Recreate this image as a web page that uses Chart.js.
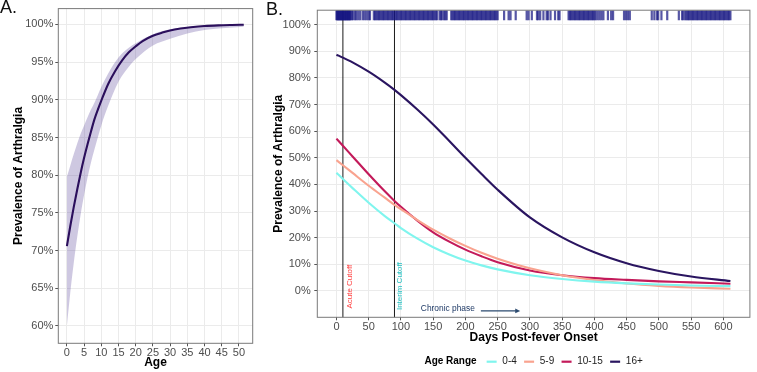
<!DOCTYPE html>
<html><head><meta charset="utf-8">
<script src="https://cdn.jsdelivr.net/npm/chart.js@4.4.1/dist/chart.umd.min.js"></script>
<style>
html,body{margin:0;padding:0;background:#fff;}
body{width:757px;height:372px;position:relative;overflow:hidden;font-family:"Liberation Sans",Arial,sans-serif;}
.pane{position:absolute;top:0;height:372px;}
.tag{position:absolute;font-size:18px;line-height:18px;color:#111;font-family:"Liberation Sans",Arial,sans-serif;}
</style></head><body>
<div class="pane" style="left:0;width:256px"><canvas id="ca"></canvas></div>
<div class="pane" style="left:256px;width:501px"><canvas id="cb"></canvas></div>
<div class="tag" style="left:0;top:-2px">A.</div>
<div class="tag" style="left:266px;top:0px">B.</div>
<script>
// ---------- Panel A data ----------
const ageTicks = [0,5,10,15,20,25,30,35,40,45,50];
const pctTicksA = [60,65,70,75,80,85,90,95,100];
const ageLineX = [0,1,2,3,4,5,6,7,8,9,10,12,14,16,18,20,22,25,28,30,33,36,40,44,48,51.4];
const ageLineY = [70.6,73.3,75.8,78.1,80.3,82.3,84.1,85.8,87.4,88.7,89.9,92.1,93.8,95.2,96.3,97.1,97.8,98.5,98.95,99.2,99.45,99.62,99.79,99.88,99.93,99.96];
const ageBandX = [0,1,2,3,4,5,6,7,8,10,12,15,18,20,25,30,35,40,45,51.4];
const ageBandUpper = [79.8,81.3,82.8,84.2,85.5,86.6,87.7,88.7,89.6,91.7,93.5,95.6,96.9,97.5,98.7,99.35,99.65,99.82,99.9,99.96];
const ageBandLower = [60.0,64.5,68.4,71.8,74.8,77.4,79.7,81.7,83.4,86.6,89.2,92.4,94.4,95.4,97.2,98.1,98.8,99.25,99.5,99.7];

// ---------- Panel B data ----------
const dayTicks = [0,50,100,150,200,250,300,350,400,450,500,550,600];
const pctTicksB = [0,10,20,30,40,50,60,70,80,90,100];
const ageGroups = ['0-4','5-9','10-15','16+'];
const days = [0,10,25,50,75,90,100,125,150,175,200,225,250,300,350,400,450,500,550,611];
const prev04   = [44.4,42.0,38.6,33.1,28.1,25.4,23.6,19.7,16.4,13.7,11.4,9.6,8.1,5.9,4.5,3.5,2.85,2.4,2.05,1.8];
const prev59   = [49.1,47.2,44.3,39.5,35.0,32.3,30.7,26.7,23.0,19.8,16.9,14.3,12.1,8.5,5.9,4.1,2.8,1.9,1.3,0.82];
const prev1015 = [57.2,54.5,50.5,43.8,37.4,33.8,31.6,26.5,22.0,18.5,15.5,13.0,10.8,7.7,5.9,4.8,4.15,3.6,3.2,2.7];
const prev16   = [88.7,87.6,85.8,82.3,78.2,75.5,73.5,68.2,62.5,56.3,50.0,43.9,38.0,27.6,20.1,14.5,10.4,7.5,5.4,3.7];
const cutoffDays = [10,90];
const rugDays = [
 0,1,2,3,4,5,6,7,8,9,10,11,12,13,14,15,16,17,18,19,20,21,22,24,26,
 29,31,34,37,41,44,47,50,52,
 58,60,62,64,66,68,70,72,74,76,78,80,82,84,86,88,90,92,94,96,98,100,102,104,106,108,110,112,114,116,118,120,122,124,126,128,130,132,134,136,138,140,142,144,146,148,150,
 152,154,156,160,162,164,167,169,171,
 178,180,182,184,186,188,190,192,194,196,198,200,202,204,206,208,210,212,214,216,218,220,222,224,226,228,230,232,234,236,238,240,242,244,246,248,250,
 260,267,270,278,295,298,303,
 311,313,316,321,326,328,332,339,344,346,
 360,362,364,366,368,370,372,374,376,378,380,382,384,386,388,390,392,394,396,398,400,402,
 405,408,411,414,421,426,429,446,449,452,455,
 489,493,497,499,504,513,531,536,538,
 541,543,545,547,549,551,553,555,557,559,561,563,565,567,569,571,573,575,577,579,581,583,585,587,589,591,593,595,597,599,601,603,605,607,609,611
];

const FONT = '"Liberation Sans", Arial, sans-serif';
Chart.defaults.font.family = FONT;
Chart.defaults.color = '#4d4d4d';

const framePlugin = {
  id: 'frame',
  afterDraw(chart) {
    const {ctx, chartArea: a} = chart;
    ctx.save();
    ctx.strokeStyle = '#7a7a7a';
    ctx.lineWidth = 1;
    ctx.strokeRect(a.left, a.top, a.right - a.left, a.bottom - a.top);
    ctx.restore();
  }
};

function fixTicks(list) {
  return (scale) => { scale.ticks = list.map(v => ({value: v})); };
}
const gridOpts = {color: '#ebebeb', lineWidth: 1, tickColor: '#555', tickLength: 3, drawTicks: true};
const tickFont = {size: 11};
const titleFont = {size: 12, weight: 'bold'};

// ---------- Panel A ----------
new Chart(document.getElementById('ca'), {
  type: 'line',
  data: {
    datasets: [
      {label: 'fit', data: ageLineX.map((x, i) => ({x, y: ageLineY[i]})), borderColor: '#2b0f5c', borderWidth: 2.1, pointRadius: 0, fill: false, cubicInterpolationMode: 'monotone'},
      {label: 'upper', data: ageBandX.map((x, i) => ({x, y: ageBandUpper[i]})), borderWidth: 0, borderColor: 'rgba(0,0,0,0)', pointRadius: 0, fill: '+1', backgroundColor: 'rgba(94,74,154,0.30)', cubicInterpolationMode: 'monotone'},
      {label: 'lower', data: ageBandX.map((x, i) => ({x, y: ageBandLower[i]})), borderWidth: 0, borderColor: 'rgba(0,0,0,0)', pointRadius: 0, fill: false, cubicInterpolationMode: 'monotone'}
    ]
  },
  options: {
    responsive: true, maintainAspectRatio: false, animation: false, devicePixelRatio: 1,
    layout: {padding: {top: 7.3, right: 3.3, left: 0, bottom: 0}},
    plugins: {legend: {display: false}, tooltip: {enabled: false}},
    scales: {
      x: {type: 'linear', min: -2.5, max: 54.0, afterBuildTicks: fixTicks(ageTicks),
          afterFit: s => { s.height = 28.7; },
          grid: gridOpts, border: {display: false},
          ticks: {font: tickFont, padding: 0, maxRotation: 0, autoSkip: false},
          title: {display: true, text: 'Age', font: titleFont, color: '#000', padding: {top: 0, bottom: 2.6}}},
      y: {type: 'linear', min: 57.7, max: 102.1, afterBuildTicks: fixTicks(pctTicksA),
          afterFit: s => { s.width = 58.3; },
          grid: gridOpts, border: {display: false},
          ticks: {font: tickFont, padding: 2, callback: v => v + '%', autoSkip: false},
          title: {display: true, text: 'Prevalence of Arthralgia', font: titleFont, color: '#000', padding: {top: 11.1, bottom: 0}}}
    }
  },
  plugins: [framePlugin]
});

// ---------- Panel B ----------
const groupColors = ['#80f5ee', '#f9a38f', '#c31a5a', '#2a1560'];
const groupSeries = [prev04, prev59, prev1015, prev16];
const notes = [
  {text: 'Acute Cutoff', x: 20, y: 1.6, rot: -90, color: '#ff3d3d', size: 8},
  {text: 'Interim Cutoff', x: 98.5, y: 1.8, rot: -90, color: '#22c1c3', size: 8},
  {text: 'Chronic phase', x: 172.8, y: -6.5, rot: 0, color: '#1f3a66', size: 8.4}
];
const arrowSpec = {x1: 224, x2: 285, y: -7.5, color: '#2b4a6f'};

const notesPlugin = {
  id: 'notes',
  afterDatasetsDraw(chart) {
    const {ctx, scales: {x, y}} = chart;
    ctx.save();
    notes.forEach(n => {
      ctx.save();
      ctx.translate(x.getPixelForValue(n.x), y.getPixelForValue(n.y));
      ctx.rotate(n.rot * Math.PI / 180);
      ctx.font = n.size + 'px ' + FONT;
      ctx.fillStyle = n.color;
      ctx.textAlign = 'center';
      ctx.textBaseline = 'middle';
      ctx.fillText(n.text, 0, 0);
      ctx.restore();
    });
    const ax1 = x.getPixelForValue(arrowSpec.x1), ax2 = x.getPixelForValue(arrowSpec.x2), ay = y.getPixelForValue(arrowSpec.y);
    ctx.strokeStyle = arrowSpec.color; ctx.fillStyle = arrowSpec.color; ctx.lineWidth = 1.2;
    ctx.beginPath(); ctx.moveTo(ax1, ay); ctx.lineTo(ax2 - 3, ay); ctx.stroke();
    ctx.beginPath(); ctx.moveTo(ax2, ay); ctx.lineTo(ax2 - 5, ay - 2.3); ctx.lineTo(ax2 - 5, ay + 2.3); ctx.closePath(); ctx.fill();
    ctx.restore();
  }
};

const legendPlugin = {
  id: 'ggLegend',
  afterDraw(chart) {
    const {ctx, chartArea: a} = chart;
    const items = chart.data.datasets.filter(d => d.isGroup);
    const cy = 361.7;
    ctx.save();
    ctx.textBaseline = 'middle';
    ctx.font = 'bold 10px ' + FONT;
    const title = 'Age Range';
    const tw = ctx.measureText(title).width;
    ctx.font = '10px ' + FONT;
    const widths = items.map(d => ctx.measureText(d.label).width);
    const keyLen = 10, gapTitle = 10, gapKey = 5.7, gapItem = 7.3;
    let total = tw + gapTitle;
    widths.forEach((w, i) => { total += keyLen + gapKey + w + (i < widths.length - 1 ? gapItem : 0); });
    let cx = (a.left + a.right) / 2 - total / 2;
    ctx.font = 'bold 10px ' + FONT; ctx.fillStyle = '#000'; ctx.textAlign = 'left';
    ctx.fillText(title, cx, cy);
    cx += tw + gapTitle;
    ctx.font = '10px ' + FONT;
    items.forEach((d, i) => {
      ctx.strokeStyle = d.borderColor; ctx.lineWidth = 2.2;
      ctx.beginPath(); ctx.moveTo(cx, cy); ctx.lineTo(cx + keyLen, cy); ctx.stroke();
      cx += keyLen + gapKey;
      ctx.fillStyle = '#222';
      ctx.fillText(d.label, cx, cy);
      cx += widths[i] + gapItem;
    });
    ctx.restore();
  }
};

const bDatasets = [
  {label: 'rug', type: 'scatter', data: rugDays.map(d => ({x: d, y: 103.5})), pointStyle: 'line', rotation: 90, pointRadius: 4.9, borderWidth: 2.2, borderColor: 'rgba(22,22,130,0.72)', backgroundColor: 'rgba(22,22,130,0.72)', pointHoverRadius: 4.9}
];
ageGroups.forEach((g, i) => {
  bDatasets.push({label: g, isGroup: true, type: 'line', data: days.map((d, j) => ({x: d, y: groupSeries[i][j]})), borderColor: groupColors[i], backgroundColor: groupColors[i], borderWidth: 2.1, pointRadius: 0, fill: false, cubicInterpolationMode: 'monotone'});
});
cutoffDays.forEach(c => {
  bDatasets.push({label: 'cut' + c, type: 'line', data: [{x: c, y: -20}, {x: c, y: 120}], borderColor: '#1a1a1a', borderWidth: 1, pointRadius: 0, fill: false});
});

new Chart(document.getElementById('cb'), {
  type: 'line',
  data: {datasets: bDatasets},
  options: {
    responsive: true, maintainAspectRatio: false, animation: false, devicePixelRatio: 1,
    layout: {padding: {top: 8.3, right: 1, left: 0, bottom: 26.7}},
    plugins: {legend: {display: false}, tooltip: {enabled: false}},
    scales: {
      x: {type: 'linear', min: -29.7, max: 641.2, afterBuildTicks: fixTicks(dayTicks),
          afterFit: s => { s.height = 28; },
          grid: gridOpts, border: {display: false},
          ticks: {font: tickFont, padding: 0, maxRotation: 0, autoSkip: false},
          title: {display: true, text: 'Days Post-fever Onset', font: titleFont, color: '#000', padding: {top: 0, bottom: 0}}},
      y: {type: 'linear', min: -9.9, max: 105.4, afterBuildTicks: fixTicks(pctTicksB),
          afterFit: s => { s.width = 61.3; },
          grid: gridOpts, border: {display: false},
          ticks: {font: tickFont, padding: 3.6, callback: v => v + '%', autoSkip: false},
          title: {display: true, text: 'Prevalence of Arthralgia', font: titleFont, color: '#000', padding: {top: 15.1, bottom: 0}}}
    }
  },
  plugins: [notesPlugin, framePlugin, legendPlugin]
});
</script>
</body></html>
